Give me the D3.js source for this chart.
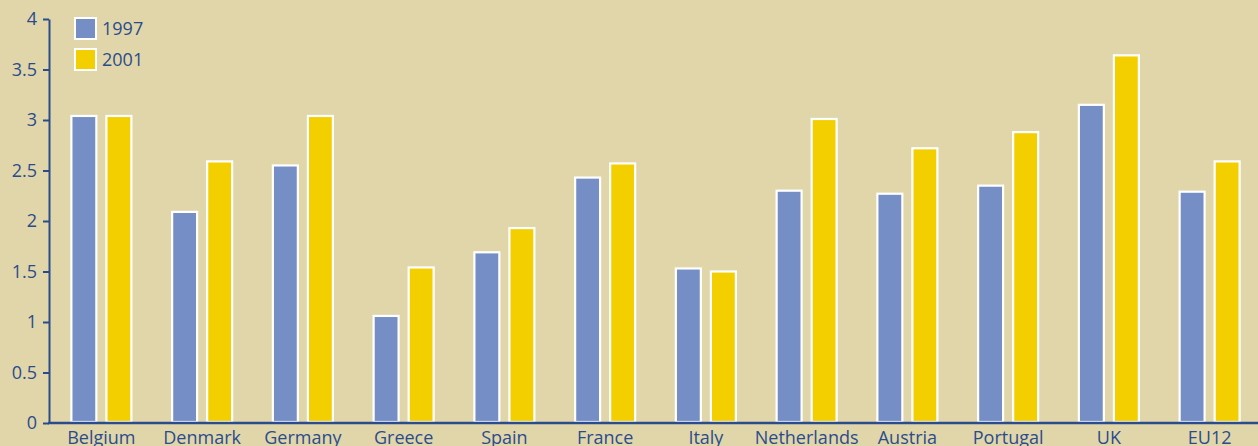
<!DOCTYPE html>
<html>
<head>
<meta charset="utf-8">
<script src="https://cdn.jsdelivr.net/npm/d3@7"></script>
<style>
  html, body { margin: 0; padding: 0; background: #e0d6aa; }
  svg { display: block; font-family: "Open Sans", sans-serif; }
</style>
</head>
<body>
<div id="chart"></div>
<script>
const countries = ["Belgium", "Denmark", "Germany", "Greece", "Spain", "France", "Italy", "Netherlands", "Austria", "Portugal", "UK", "EU12"];
const years = ["1997", "2001"];
const values1997 = [3.05, 2.10, 2.56, 1.07, 1.70, 2.44, 1.54, 2.31, 2.28, 2.36, 3.16, 2.30];
const values2001 = [3.05, 2.60, 3.05, 1.55, 1.94, 2.58, 1.51, 3.02, 2.73, 2.89, 3.65, 2.60];
const yTicks = [0, 0.5, 1, 1.5, 2, 2.5, 3, 3.5, 4];

const colors = { "1997": "#758fc6", "2001": "#f3cf00" };
const ink = "#2b4c8c";

const W = 1258, H = 446;
const axisX = 49, axisY = 423;

const svg = d3.select("#chart").append("svg")
  .attr("width", W)
  .attr("height", H);

svg.append("rect").attr("width", W).attr("height", H).attr("fill", "#e0d6aa");

const x = d3.scaleBand().domain(countries).range([51, 1260]);
const x1 = d3.scaleBand().domain(years).range([0, 62]).paddingInner(0.23);
const y = d3.scaleLinear().domain([0, 4]).range([axisY, 19]);

const rows = countries.map((c, i) => ({ country: c, "1997": values1997[i], "2001": values2001[i] }));

// bars
const groups = svg.selectAll(".grp")
  .data(rows)
  .join("g")
  .attr("class", "grp")
  .attr("transform", d => `translate(${x(d.country) + x.bandwidth() / 2 - 31},0)`);

groups.selectAll("rect")
  .data(d => years.map(yr => ({ year: yr, value: d[yr] })))
  .join("rect")
  .attr("x", d => x1(d.year) + 1)
  .attr("width", x1.bandwidth() - 2)
  .attr("y", d => y(d.value) + 1)
  .attr("height", d => y(0) - y(d.value) - 2)
  .attr("fill", d => colors[d.year])
  .attr("stroke", "#ffffff")
  .attr("stroke-width", 2.2);

// y axis
svg.append("g")
  .attr("transform", `translate(${axisX},0)`)
  .style("font-size", "18px")
  .call(d3.axisLeft(y).tickValues(yTicks).tickFormat(d => d).tickSize(6).tickPadding(6).tickSizeOuter(0))
  .call(g => g.select(".domain").attr("stroke", ink).attr("stroke-width", 2))
  .call(g => g.selectAll(".tick line").attr("stroke", ink).attr("stroke-width", 2))
  .call(g => g.selectAll(".tick text").attr("fill", ink).attr("font-family", "Open Sans, sans-serif"));

// x axis
svg.append("g")
  .attr("transform", `translate(0,${axisY})`)
  .style("font-size", "18px")
  .call(d3.axisBottom(x).tickSize(0).tickPadding(8))
  .call(g => g.select(".domain").remove())
  .call(g => g.selectAll(".tick text").attr("fill", ink).attr("font-family", "Open Sans, sans-serif"));

svg.append("line")
  .attr("x1", axisX - 1).attr("x2", W)
  .attr("y1", axisY).attr("y2", axisY)
  .attr("stroke", ink).attr("stroke-width", 2.5);

// legend
const legend = svg.append("g")
  .selectAll("g")
  .data(years)
  .join("g")
  .attr("transform", (d, i) => `translate(75,${18 + i * 31})`);

legend.append("rect")
  .attr("width", 21).attr("height", 21)
  .attr("fill", d => colors[d])
  .attr("stroke", "#ffffff").attr("stroke-width", 2);

legend.append("text")
  .attr("x", 27).attr("y", 11)
  .attr("dy", "0.35em")
  .attr("fill", ink)
  .style("font-size", "18px")
  .text(d => d);
</script>
</body>
</html>
